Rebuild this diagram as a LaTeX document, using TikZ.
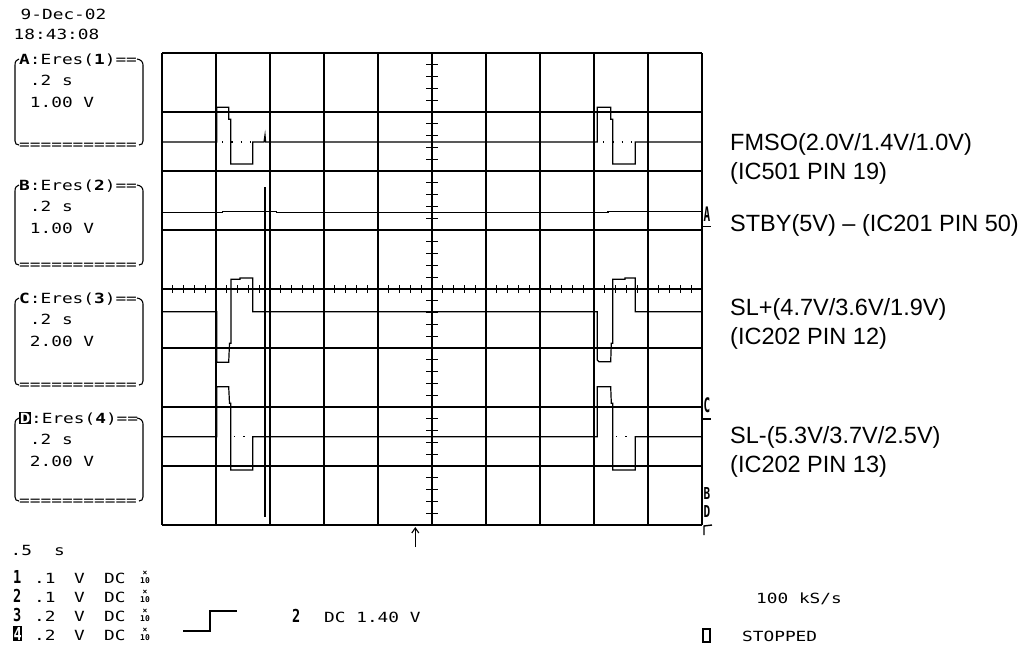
\documentclass[tikz,border=0pt]{standalone}
\usepackage{fontspec}
\setmainfont{Liberation Sans}
\newfontfamily\oscfont[FakeStretch=1.27]{DejaVu Sans Mono}
\newfontfamily\markfont{DejaVu Sans Mono}
\usetikzlibrary{arrows.meta}
\newcommand{\invbox}[1]{{\setlength{\fboxsep}{0.6pt}\colorbox{black}{\textcolor{white}{\bfseries #1}}}}
\newcommand{\oscpanel}[6]{%
  \node[osc] (#1t) at (19,#5) {#2:Eres(\textbf{#3})==};
  \node[osc] (#1a) at (29.7,#5+21.5) {.2 s};
  \node[osc] (#1b) at (29.7,#5+43) {#4};
  \node[osc] (#1e) at (19,#6+4) {===========};
  \draw[frame] (19,#5-5) .. controls (16.5,#5-4.5) and (15,#5-2.5) .. (15,#5+1) -- (15,#6-4) .. controls (15,#6-1.5) and (16.5,#6) .. (19,#6);
  \draw[frame] (137,#5-5) .. controls (140.5,#5-4.5) and (143,#5-2.5) .. (143,#5+1) -- (143,#6-4) .. controls (143,#6-1.5) and (141.5,#6) .. (139,#6);
}
\begin{document}
\begin{tikzpicture}[x=1pt,y=-1pt,
  osc/.style={font=\oscfont\fontsize{14}{16}\selectfont, inner sep=0pt, anchor=base west},
  oscb/.style={font=\markfont\bfseries\fontsize{17}{18}\selectfont, inner sep=0pt, anchor=base west},
  tinyx/.style={font=\markfont\bfseries\fontsize{8}{8}\selectfont, inner sep=0pt, anchor=center},
  chmark/.style={font=\markfont\bfseries\fontsize{20}{20}\selectfont, inner sep=0pt, anchor=center},
  lbl/.style={font=\fontsize{23.5}{28}\selectfont, inner sep=0pt, anchor=base west},
  gridline/.style={line width=1.4pt, black},
  frame/.style={line width=1.1pt},
  trace/.style={line width=1.2pt, line join=miter},
  basedot/.style={line width=1.3pt, dash pattern=on 1.3pt off 8pt}]
\useasboundingbox (0,0) rectangle (1036,651);
\fill[white] (0,0) rectangle (1036,651);

% ---------------- grid ----------------
\foreach \i in {0,...,10} \draw[gridline] (162+54*\i,53) -- (162+54*\i,525);
\foreach \j in {0,...,8} \draw[gridline] (162,53+59*\j) -- (702,53+59*\j);
\foreach \k in {1,...,39} \draw[line width=1.1pt] (426,53+11.8*\k) -- (438,53+11.8*\k);
\foreach \k in {1,...,49} \draw[line width=1.1pt] (162+10.8*\k,285) -- (162+10.8*\k,293);

% ---------------- traces ----------------
% A : FMSO
\draw[trace] (162,142) -- (216.7,142) -- (216.7,107.3) -- (228.7,107.3) -- (228.7,119.3) -- (230.7,119.3) -- (230.7,164) -- (252.7,164) -- (252.7,142) -- (264,142) -- (265,135) -- (265.6,142) -- (597.3,142) -- (597.3,107.3) -- (610.7,107.3) -- (610.7,119.3) -- (612.7,119.3) -- (612.7,164) -- (635.3,164) -- (635.3,142) -- (702,142);
\draw[basedot] (222,142) -- (251,142);
\draw[basedot] (603,142) -- (634,142);
% B : STBY
\draw[trace] (162,212.7) -- (222.7,212.7) -- (222.7,211.3) -- (276.7,211.3) -- (276.7,212.7) -- (608,212.7) -- (608,211.3) -- (702,211.3);
% C : SL+
\draw[trace] (162,311.7) -- (216.7,311.7) -- (216.7,362.3) -- (228.7,362.3) -- (229.5,343.3) -- (231,343.3) -- (231,279.3) -- (240,279.3) -- (240,278) -- (252.7,278) -- (252.7,311.7) -- (595,311.7) -- (597.3,311.7) -- (597.3,360) -- (599,361.7) -- (610.7,361.7) -- (611.3,343.3) -- (612.7,343.3) -- (612.7,279.3) -- (625,279.3) -- (625,278) -- (635.3,278) -- (635.3,311.7) -- (702,311.7);
% D : SL-
\draw[trace] (162,436.7) -- (216.7,436.7) -- (216.7,386.7) -- (228.7,386.7) -- (229.5,403.3) -- (230.7,403.3) -- (230.7,470) -- (252.7,470) -- (252.7,436.7) -- (597.3,436.7) -- (597.3,386.7) -- (610.7,386.7) -- (611.3,403.3) -- (612.7,403.3) -- (612.7,470) -- (635.3,470) -- (635.3,436.7) -- (702,436.7);
\draw[basedot] (234,436.7) -- (251,436.7);
\draw[basedot] (616,436.7) -- (634,436.7);
% cursor
\draw[trace] (265,187) -- (265,517);

% trigger arrow
\coordinate (trgB) at (415.3,547);
\coordinate (trgT) at (415.3,527);
\draw[line width=1.1pt, -{Straight Barb[length=5pt,width=7pt]}] (trgB) -- (trgT);

% right-edge markers
\node[chmark] (mA) at (707,214) {\scalebox{0.55}[1]{A}};
\draw[line width=1.4pt] (703,226.7) -- (711,226.7);
\node[chmark] (mC) at (707,405.5) {\scalebox{0.55}[1]{C}};
\draw[line width=1.4pt] (703,419) -- (711,419);
\node[chmark] (mB) at (707,494) {\scalebox{0.55}[0.82]{B}};
\node[chmark] (mD) at (707,512) {\scalebox{0.55}[0.82]{D}};
\draw[line width=1.4pt] (704,535) -- (704,526) -- (712,525);

% ---------------- header text ----------------
\node[osc] (date) at (20.5,19) {9-Dec-02};
\node[osc] (time) at (13.5,39) {18:43:08};

% ---------------- panels ----------------
\oscpanel{pA}{\textbf{A}}{1}{1.00 V}{64}{145}
\oscpanel{pB}{\textbf{B}}{2}{1.00 V}{190}{265}
\oscpanel{pC}{\textbf{C}}{3}{2.00 V}{303}{385}
\oscpanel{pD}{\invbox{D}}{4}{2.00 V}{423}{501}

% ---------------- bottom block ----------------
\node[osc] (tb) at (10.5,555) {.5};
\node[osc] (tbs) at (54,555) {s};
\foreach \n/\v/\yy in {1/.1/583, 2/.1/602, 3/.2/621} {
  \node[oscb] (ch\n) at (13,\yy) {\scalebox{0.8}[1.05]{\n}};
  \node[osc] (vd\n) at (34,\yy) {\v};
  \node[osc] (vu\n) at (74,\yy) {V};
  \node[osc] (cp\n) at (104,\yy) {DC};
  \node[tinyx] (px\n) at (145,\yy-9.5) {×};
  \node[tinyx] (pt\n) at (145,\yy-2.5) {10};
}
\node[oscb] (ch4) at (13,640) {\scalebox{0.8}[1.05]{\invbox{4}}};
\node[osc] (vd4) at (34,640) {.2};
\node[osc] (vu4) at (74,640) {V};
\node[osc] (cp4) at (104,640) {DC};
\node[tinyx] (px4) at (145,630.5) {×};
\node[tinyx] (pt4) at (145,637.5) {10};

\draw[line width=1.3pt] (183,631) -- (210,631) -- (210,611) -- (237,611);
\node[oscb] (trgch) at (292,622) {\scalebox{0.8}[1.05]{2}};
\node[osc] (trglev) at (324,622) {DC 1.40 V};

\node[osc] (rate) at (756,603) {100 kS/s};
\draw[line width=1.1pt] (703,629) rectangle (710,642);
\node[osc] (stop) at (742,641) {STOPPED};

% ---------------- signal labels ----------------
\node[lbl] (l1) at (730,150) {FMSO(2.0V/1.4V/1.0V)};
\node[lbl] (l1b) at (730,179) {(IC501 PIN 19)};
\node[lbl] (l2) at (730,231) {STBY(5V) – (IC201 PIN 50)};
\node[lbl] (l3) at (730,315) {SL+(4.7V/3.6V/1.9V)};
\node[lbl] (l3b) at (730,344) {(IC202 PIN 12)};
\node[lbl] (l4) at (730,443) {SL-(5.3V/3.7V/2.5V)};
\node[lbl] (l4b) at (730,472) {(IC202 PIN 13)};
\end{tikzpicture}
\end{document}
